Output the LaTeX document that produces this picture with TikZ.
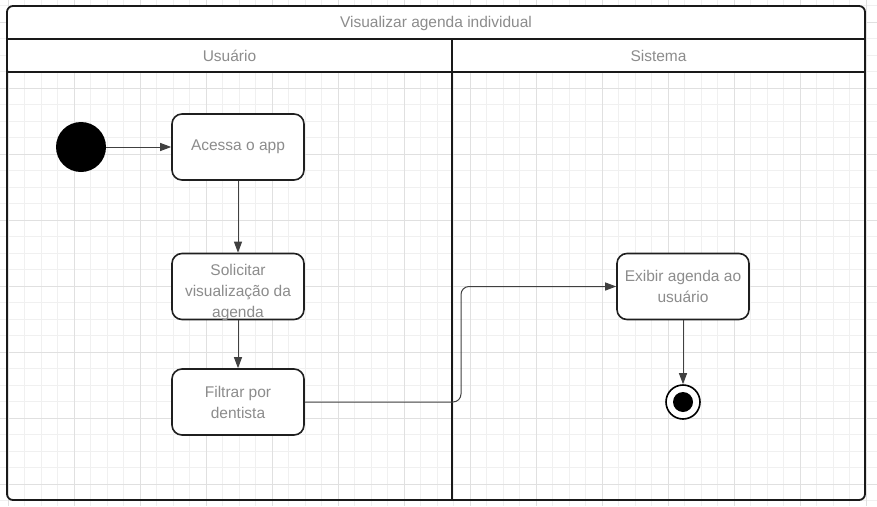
\documentclass[tikz,border=0pt]{standalone}
\usepackage{fontspec}
\setmainfont{Liberation Sans}
\usetikzlibrary{arrows.meta, positioning}
\tikzset{
    %Define standard arrow tip
    >={Triangle[length=11pt,width=8pt]},
}
\definecolor{txtgray}{HTML}{8C8C8C}
\definecolor{gridminor}{HTML}{F0F0F0}
\definecolor{gridmajor}{HTML}{E0E0E0}

\begin{document}
\begin{tikzpicture}[x=1pt, y=-1pt,
    act/.style = {draw=black!88, line width=1.6pt, rounded corners=10pt, fill=white,
                  minimum height=66pt, minimum width=132pt, text=txtgray, align=center,
                  font=\fontsize{15.5}{21}\selectfont},
    hdr/.style = {text=txtgray, font=\fontsize{15.5}{21}\selectfont},
    flow/.style = {draw=black!75, line width=1pt, ->},
    lane/.style = {draw=black!90, line width=1.8pt},
  ]
  \useasboundingbox (0,0) rectangle (877,506);
  % background grid
  \foreach \k in {0,...,52} \draw[gridminor, line width=0.8pt] (8+16.5*\k,0) -- (8+16.5*\k,506);
  \foreach \k in {0,...,30} \draw[gridminor, line width=0.8pt] (0,5.5+16.5*\k) -- (877,5.5+16.5*\k);
  \foreach \k in {0,...,13} \draw[gridmajor, line width=0.9pt] (8+66*\k,0) -- (8+66*\k,506);
  \foreach \k in {0,...,7} \draw[gridmajor, line width=0.9pt] (0,22+66*\k) -- (877,22+66*\k);

  % pool and lanes
  \fill[white, rounded corners=6pt] (7,6) rectangle (865,72);
  \draw[lane, rounded corners=6pt] (7,6) rectangle (865,500);
  \draw[lane] (7,39) -- (865,39);
  \draw[lane] (7,72) -- (865,72);
  \draw[lane] (452,39) -- (452,500);
  \node[hdr] (title) at (436,23) {Visualizar agenda individual};
  \node[hdr] (usuario) at (229.5,56) {Usuário};
  \node[hdr] (sistema) at (658.5,56) {Sistema};

  % activities
  \node[circle, fill=black, minimum size=50pt, inner sep=0pt] (start) at (81,147) {};
  \node[act] (acessa) at (238,147) {Acessa o app};
  \node[act] (solicitar) at (238,286.5) {};
  \node[hdr, align=center] (solicitarTxt) at (238,292) {Solicitar\\visualização da\\agenda};
  \node[act] (filtrar) at (238,402) {Filtrar por\\dentista};
  \node[act] (exibir) at (683,286.5) {Exibir agenda ao\\usuário};
  \node[circle, draw=black, line width=1.6pt, fill=white, minimum size=34pt, inner sep=0pt] (fim) at (683,402) {};
  \node[circle, fill=black, minimum size=20pt, inner sep=0pt] (fimIn) at (fim.center) {};
  \coordinate (bend) at (461,286.5);

  \draw[flow] (start) -- (acessa);
  \draw[flow] (acessa) -- (solicitar);
  \draw[flow] (solicitar) -- (filtrar);
  \draw[flow, rounded corners=8pt] (filtrar.east) -| (bend) -- (exibir.west);
  \draw[flow] (exibir) -- (fim);
\end{tikzpicture}
\end{document}
